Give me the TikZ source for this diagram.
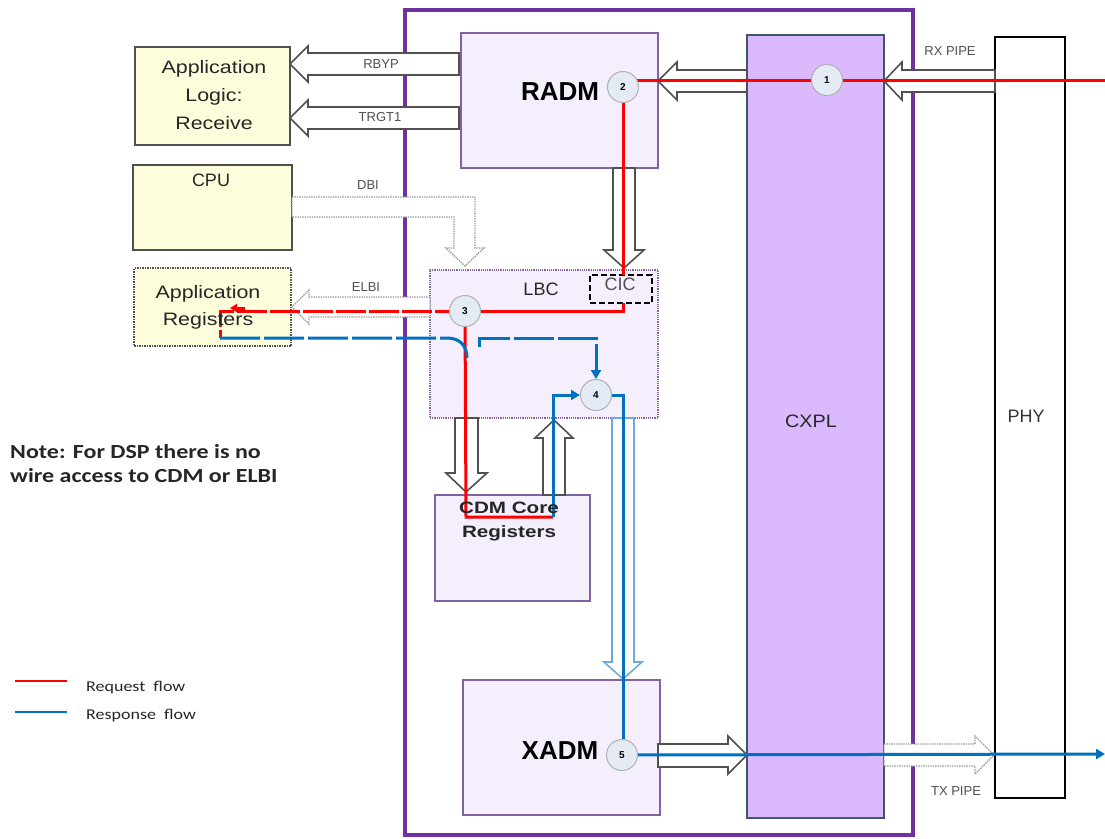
\documentclass[tikz,border=0pt]{standalone}
\usepackage{fontspec}
\setmainfont{Liberation Sans}
\newfontfamily\calfont[FakeStretch=1.2]{Carlito}
\newfontfamily\arwide[FakeStretch=1.19]{Liberation Sans}
\newfontfamily\arwider[FakeStretch=1.25]{Liberation Sans}
\newfontfamily\arsome[FakeStretch=1.1]{Liberation Sans}
\usetikzlibrary{arrows.meta,calc}
\definecolor{lav}{HTML}{F5EFFD}
\definecolor{lavline}{HTML}{8064A2}
\definecolor{cxplfill}{HTML}{DAB9FC}
\definecolor{cxplline}{HTML}{44546A}
\definecolor{frame}{HTML}{7030A0}
\definecolor{ylw}{HTML}{FDFDDC}
\definecolor{circfill}{HTML}{E4EBF5}
\definecolor{circline}{HTML}{B0B0B0}
\definecolor{reqc}{HTML}{FF0000}
\definecolor{resc}{HTML}{0070C0}
\definecolor{ltblue}{HTML}{6FA8DC}
\definecolor{darkg}{HTML}{505050}
\definecolor{midg}{HTML}{9A9A9A}
\begin{document}
\begin{tikzpicture}[x=1pt,y=-1pt,
  box/.style={draw, inner sep=0pt, outer sep=0pt, anchor=north west},
  lavbox/.style={box, draw=lavline, fill=lav, line width=1.2pt},
  ylwbox/.style={box, draw=darkg, fill=ylw, line width=1.5pt},
  blk/.style={draw=darkg, fill=white, line width=1.6pt, line join=miter},
  blkdot/.style={draw=midg, fill=white, line width=1.4pt, densely dotted},
  blkblue/.style={draw=ltblue, fill=white, line width=1.6pt},
  req/.style={draw=reqc, line width=3pt},
  res/.style={draw=resc, line width=3pt},
  num/.style={circle, draw=circline, fill=circfill, line width=1pt, minimum size=31pt, inner sep=0pt, font=\fontsize{10}{10}\selectfont\bfseries},
  lbl/.style={font=\fontsize{13}{13}\selectfont, text=darkg, inner sep=0pt},
  big/.style={font=\arwide\fontsize{18}{28}\selectfont, align=center, inner sep=0pt, text=black!85},
  tip/.style={-{Triangle[length=9pt,width=10pt]}}
]
\useasboundingbox (0,0) rectangle (1105,838);

% outer frame
\node[box, draw=frame, line width=4pt, minimum width=508pt, minimum height=825pt] (frm) at (405,10) {};

% boxes
\node[lavbox, minimum width=197pt, minimum height=135pt] (radm) at (461,33) {};
\node[box, draw=cxplline, fill=cxplfill, line width=1.3pt, minimum width=137pt, minimum height=783pt] (cxpl) at (747,35) {};
\node[box, draw=black, fill=white, line width=1.3pt, minimum width=70pt, minimum height=761pt] (phy) at (995,37) {};
\node[ylwbox, minimum width=155pt, minimum height=98pt] (applog) at (135,47) {};
\node[ylwbox, minimum width=159pt, minimum height=85pt] (cpu) at (133,165) {};
\node[ylwbox, draw=darkg, densely dotted, minimum width=157pt, minimum height=78pt] (appreg) at (134,268) {};
\node[lavbox, densely dotted, minimum width=228pt, minimum height=148pt] (lbc) at (430,270) {};
\node[lavbox, minimum width=155pt, minimum height=106pt] (cdm) at (435,495) {};
\node[lavbox, minimum width=197pt, minimum height=135pt] (xadm) at (463,680) {};

% block arrows
% RBYP
\path[blk] (459,53) -- (308,53) -- (308,46) -- (290,64) -- (308,82) -- (308,75) -- (459,75) -- cycle;
% TRGT1
\path[blk] (459,107) -- (308,107) -- (308,100) -- (290,118) -- (308,136) -- (308,129) -- (459,129) -- cycle;
% RX PIPE
\path[blk] (995,70) -- (902,70) -- (902,62) -- (884,81) -- (902,100) -- (902,92) -- (995,92) -- cycle;
% CXPL -> RADM
\path[blk] (747,70) -- (677,70) -- (677,62) -- (658,81) -- (677,100) -- (677,92) -- (747,92) -- cycle;
% DBI
\path[blkdot] (292,197) -- (475,197) -- (475,248) -- (484,248) -- (465,266) -- (446,248) -- (454,248) -- (454,217) -- (292,217) -- cycle;
% ELBI
\path[blkdot] (430,297) -- (309,297) -- (309,290) -- (292,307) -- (309,324) -- (309,317) -- (430,317) -- cycle;
% RADM -> LBC
\path[blk] (613,168) -- (613,250) -- (604,250) -- (624,268) -- (644,250) -- (635,250) -- (635,168) -- cycle;
% LBC -> CDM
\path[blk] (455,418) -- (455,473) -- (446,473) -- (466,492) -- (487,473) -- (478,473) -- (478,418) -- cycle;
% CDM -> LBC
\path[blk] (543,495) -- (543,438) -- (535,438) -- (554,420) -- (573,438) -- (565,438) -- (565,495) -- cycle;
% LBC -> XADM
\path[blkblue] (612,418) -- (612,662) -- (604,662) -- (623,679) -- (642,662) -- (634,662) -- (634,418) -- cycle;
% XADM -> CXPL
\path[blk] (658,744) -- (728,744) -- (728,736) -- (747,755) -- (728,774) -- (728,767) -- (658,767) -- cycle;
% TX PIPE
\path[blkdot] (884,744) -- (975,744) -- (975,736) -- (994,755) -- (975,774) -- (975,766) -- (884,766) -- cycle;

% arrow labels
\node[lbl] at (381,64) {RBYP};
\node[lbl] at (380,117) {TRGT1};
\node[lbl] at (368,185) {DBI};
\node[lbl] at (366,287) {ELBI};
\node[lbl] at (950,51) {RX PIPE};
\node[lbl] at (956,791) {TX PIPE};

% circle positions
\coordinate (p1) at (827,80);
\coordinate (p2) at (623,87);
\coordinate (p3) at (465,311);
\coordinate (p4) at (596,395);
\coordinate (p5) at (622,755);
\coordinate (rin) at (1105,80);
\coordinate (rout) at (1105,754);

% CIC
\node[box, draw=black, fill=lav, line width=2pt, dash pattern=on 6pt off 3pt, minimum width=62pt, minimum height=28pt] (cic) at (590,275) {};

% request flow
\draw[req] (rin) -- (p2 |- rin) ;
\draw[req] (p2) -- (cic.north -| p2);
\draw[req] (cic.south -| p2) |- (p3);
\draw[req, dash pattern=on 30pt off 3pt] (p3) -- (220,311) -- (220,338);
\draw[req, -{Triangle[length=7pt,width=8pt]}] (245,308) -- (230,308);
\draw[req] (p3) -- (466,517) -- (553,517);

% response flow
\coordinate (b0) at (220,338);
\draw[res, dash pattern=on 40pt off 4pt] (b0) -- (447,338) .. controls (460,338) and (467,346) .. (467,358);
\draw[res, dash pattern=on 40pt off 4pt, tip] (479,347) -- (479,338) -- (596,338) -- (596,379);
\draw[res, tip] (553,517) -- (553,395) -- (580,395);
\draw[res] (p4) -- (623,395) -- (623,740);
\draw[res, tip] (p5) -- (rout);

% circles
\node[num] (c1) at (p1) {1};
\node[num] (c2) at (p2) {2};
\node[num] (c3) at (p3) {3};
\node[num] (c4) at (p4) {4};
\node[num] (c5) at (p5) {5};

% box texts
\node[big] at (214,95) {Application\\Logic:\\Receive};
\node[font=\fontsize{18}{18}\selectfont, inner sep=0pt, text=black!85] at (211,180) {CPU};
\node[big, font=\arwide\fontsize{18}{27}\selectfont] at (208,307) {Application\\Registers};
\node[font=\fontsize{26}{26}\selectfont\bfseries, inner sep=0pt] at (560,92) {RADM};
\node[font=\fontsize{26}{26}\selectfont\bfseries, inner sep=0pt] at (560,751) {XADM};
\node[font=\fontsize{18}{18}\selectfont, inner sep=0pt, text=black!85] at (541,289) {LBC};
\node[font=\fontsize{18}{18}\selectfont, inner sep=0pt, text=darkg] at (620,284) {CIC};
\node[font=\arwider\fontsize{16.5}{24}\selectfont\bfseries, align=center, inner sep=0pt, text=black!85] at (509,521) {CDM Core\\Registers};
\node[font=\arsome\fontsize{18}{18}\selectfont, inner sep=0pt, text=black!85] at (811,421) {CXPL};
\node[font=\fontsize{18}{18}\selectfont, inner sep=0pt, text=black!80] at (1026,416) {PHY};

% note
\node[font=\calfont\fontsize{20}{24}\selectfont\bfseries, align=left, anchor=west, inner sep=0pt, text=black!85] at (10,464) {Note: For DSP there is no\\wire access to CDM or ELBI};

% legend
\coordinate (l1a) at (15,681); \coordinate (l1b) at (67,681);
\coordinate (l2a) at (15,712); \coordinate (l2b) at (67,712);
\draw[reqc, line width=2.5pt] (l1a) -- (l1b);
\draw[resc, line width=2.5pt] (l2a) -- (l2b);
\node[font=\calfont\fontsize{15}{15}\selectfont, anchor=west, inner sep=0pt, text=black!85] at (86,688) {Request\ \ flow};
\node[font=\calfont\fontsize{15}{15}\selectfont, anchor=west, inner sep=0pt, text=black!85] at (86,716) {Response\ \ flow};
\end{tikzpicture}
\end{document}
